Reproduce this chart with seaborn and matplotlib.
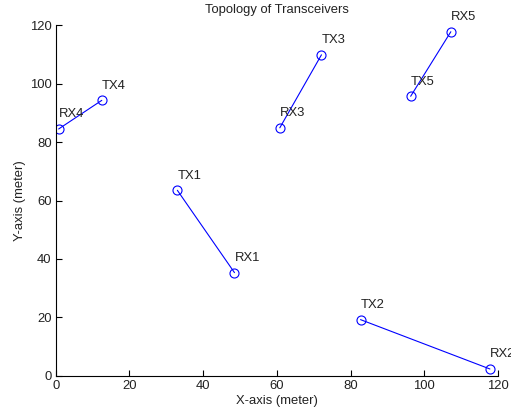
import matplotlib
matplotlib.use("Agg")
import matplotlib.pyplot as plt
import seaborn as sns
import pandas as pd

# Data
link_ids = [1, 2, 3, 4, 5]
tx_x = [33.0, 82.7, 72.1, 12.5, 96.3]
tx_y = [63.5, 19.2, 109.9, 94.3, 95.7]
rx_x = [48.5, 117.8, 60.8, 0.8, 107.2]
rx_y = [35.3, 2.3, 84.9, 84.5, 117.8]
tx_labels = ["TX1", "TX2", "TX3", "TX4", "TX5"]
rx_labels = ["RX1", "RX2", "RX3", "RX4", "RX5"]
x_ticks = [0, 20, 40, 60, 80, 100, 120]
y_ticks = [0, 20, 40, 60, 80, 100, 120]

rows = []
for i, lid in enumerate(link_ids):
    rows.append({"link": lid, "x": tx_x[i], "y": tx_y[i], "label": tx_labels[i], "order": 0})
    rows.append({"link": lid, "x": rx_x[i], "y": rx_y[i], "label": rx_labels[i], "order": 1})
df = pd.DataFrame(rows)

sns.set_style("ticks")
plt.rcParams["font.family"] = ["Liberation Sans", "DejaVu Sans"]
plt.rcParams["xtick.direction"] = "in"
plt.rcParams["ytick.direction"] = "in"

FS = 9.4
fig = plt.figure(figsize=(5.11, 4.15), dpi=100)
ax = fig.add_axes([0.109, 0.0947, 0.8656, 0.8443])

sns.lineplot(data=df, x="x", y="y", units="link", estimator=None, sort=False,
             color="blue", marker="o", markersize=6.5, markerfacecolor="none",
             markeredgecolor="blue", markeredgewidth=0.8, linewidth=0.8,
             legend=False, ax=ax)

for _, r in df.iterrows():
    ax.text(r["x"], r["y"] + 5, r["label"], ha="left", va="center",
            fontsize=FS, color="#222222", clip_on=False)

ax.set_xlim(0, 120)
ax.set_ylim(0, 120)
ax.set_xticks(x_ticks)
ax.set_yticks(y_ticks)
ax.tick_params(labelsize=FS, length=4, width=0.8, colors="black", labelcolor="#222222", pad=3)
for s in ["left", "bottom"]:
    ax.spines[s].set_linewidth(0.8)
    ax.spines[s].set_color("black")
sns.despine(ax=ax)
ax.set_xlabel("X-axis (meter)", fontsize=FS, color="#222222", labelpad=2)
ax.set_ylabel("Y-axis (meter)", fontsize=FS, color="#222222", labelpad=3)
ax.set_title("Topology of Transceivers", fontsize=FS, color="#222222", pad=9)

fig.savefig("out.png", dpi=100)
